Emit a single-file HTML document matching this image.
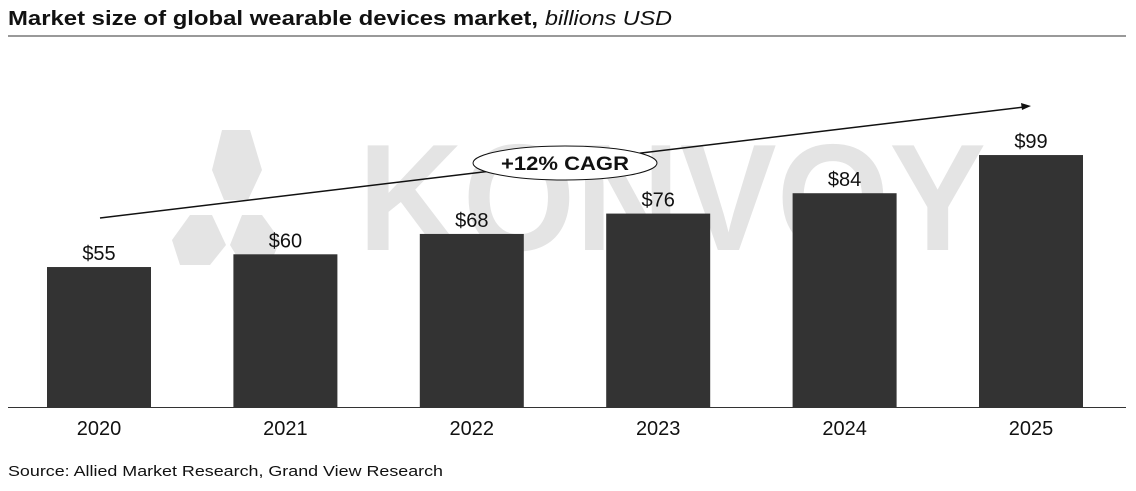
<!DOCTYPE html>
<html><head><meta charset="utf-8"><style>
body{margin:0;background:#fff;font-family:"Liberation Sans",sans-serif;}
svg{display:block}
</style></head><body>
<svg id="c" width="1136" height="491" xmlns="http://www.w3.org/2000/svg">
<text x="8" y="25" font-size="20" fill="#111"><tspan font-weight="bold" textLength="530" lengthAdjust="spacingAndGlyphs">Market size of global wearable devices market,</tspan><tspan x="545" font-style="italic" textLength="127" lengthAdjust="spacingAndGlyphs">billions USD</tspan></text>
<line x1="8" y1="36" x2="1126" y2="36" stroke="#333" stroke-width="1"/>
<g fill="#e4e4e4">
<polygon points="222,130 250,130 262,170 248,200 224,200 212,170"/>
<polygon points="190,215 212,215 226,245 210,265 180,265 172,240"/>
<polygon points="242,215 262,215 280,240 270,265 242,265 230,245"/>
<text x="358" y="250" font-size="152" font-weight="bold" textLength="628" lengthAdjust="spacingAndGlyphs">KONVOY</text>
</g>
<g id="bars"></g>
<line x1="8" y1="407.5" x2="1126" y2="407.5" stroke="#333" stroke-width="1"/>
<g>
<line x1="100" y1="218" x2="1024" y2="107" stroke="#111" stroke-width="1.5"/>
<polygon points="1031,106 1021,103 1022,110" fill="#111"/>
<ellipse cx="565" cy="163" rx="92" ry="17" fill="#fff" stroke="#111" stroke-width="1"/>
<text x="565" y="170" font-size="19" font-weight="bold" text-anchor="middle" fill="#111" textLength="128" lengthAdjust="spacingAndGlyphs">+12% CAGR</text>
</g>
<text x="8" y="476" font-size="15" fill="#111" textLength="435" lengthAdjust="spacingAndGlyphs">Source: Allied Market Research, Grand View Research</text>
</svg>
<script>
const years=["2020","2021","2022","2023","2024","2025"];
const values=[55,60,68,76,84,99];
const labels=["$55","$60","$68","$76","$84","$99"];
const g=document.getElementById('bars');
const NS="http://www.w3.org/2000/svg";
const base=407, k=2.545, x0=47, step=186.4, bw=104;
function y(v){return base-v*k;}
years.forEach((yr,i)=>{
 const x=x0+i*step;
 const r=document.createElementNS(NS,'rect');
 r.setAttribute('x',x);r.setAttribute('y',y(values[i]));r.setAttribute('width',bw);r.setAttribute('height',base-y(values[i]));r.setAttribute('fill','#333');
 
 
 g.appendChild(r);
 const t=document.createElementNS(NS,'text');
 t.setAttribute('x',x+bw/2);t.setAttribute('y',y(values[i])-7);t.setAttribute('font-size','20');t.setAttribute('text-anchor','middle');t.setAttribute('fill','#111');
 t.textContent=labels[i];
 
 
 g.appendChild(t);
 const a=document.createElementNS(NS,'text');
 a.setAttribute('x',x+bw/2);a.setAttribute('y',435);a.setAttribute('font-size','20');a.setAttribute('text-anchor','middle');a.setAttribute('fill','#111');
 a.textContent=yr;
 
 
 g.appendChild(a);
});
</script>
</body></html>
